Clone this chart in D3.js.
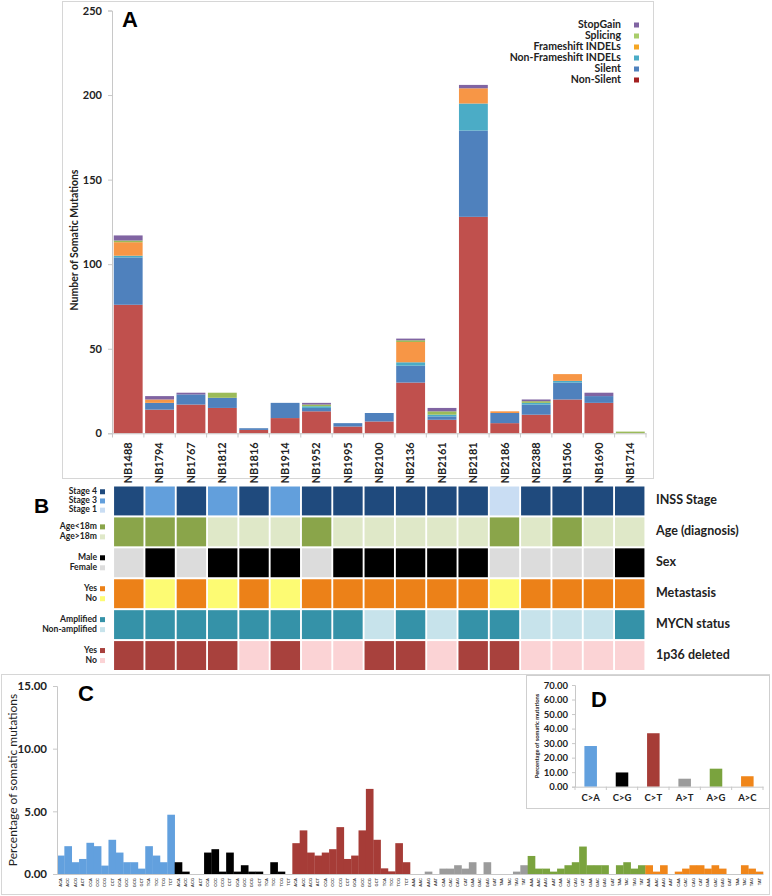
<!DOCTYPE html>
<html>
<head>
<meta charset="utf-8">
<script src="https://cdn.jsdelivr.net/npm/d3@7"></script>
<style>
html,body{margin:0;padding:0;background:#fff;}
svg{display:block;font-family:Lato,"Open Sans",sans-serif;}
</style>
</head>
<body>
<svg id="chart" width="772" height="896"></svg>
<script>
// ---------- Panel A data ----------
const samples = ["NB1488","NB1794","NB1767","NB1812","NB1816","NB1914","NB1952","NB1995","NB2100","NB2136","NB2161","NB2181","NB2186","NB2388","NB1506","NB1690","NB1714"];
const nonSilent     = [76,14,17,15,2,9,13,4,7,30,8,128,6,11,20,18,0];
const silent        = [28,4,6,6,1,9,2,2,5,10,2,51,6,6,10,4,0];
const nonFrameshift = [1,0,0,0,0,0,1,0,0,2,1,16,0,1,1,0,0];
const frameshift    = [8,2,0,0,0,0,0,0,0,12,0,9,1,0,4,0,0];
const splicing      = [1,0,0,3,0,0,1,0,0,1,2,0,0,1,0,0,1];
const stopGain      = [3,2,1,0,0,0,1,0,0,1,2,2,0,1,0,2,0];
const mutTypes = ["Non-Silent","Silent","Non-Frameshift INDELs","Frameshift INDELs","Splicing","StopGain"];
const yTicksA = [0,50,100,150,200,250];

// ---------- Panel B data ----------
const inssStage  = [4,3,4,3,4,3,4,4,4,4,4,4,1,4,4,4,4];
const ageUnder18 = [1,1,1,0,0,0,1,0,0,0,0,0,1,0,1,0,0];
const sexMale    = [0,1,0,1,1,1,0,1,1,1,1,1,0,0,0,0,1];
const metastasis = [1,0,1,0,1,0,1,1,1,1,1,1,0,1,1,1,1];
const mycnAmp    = [1,1,1,1,1,1,1,1,0,1,0,1,1,0,0,0,1];
const del1p36    = [1,1,1,1,0,1,0,0,1,1,0,1,1,0,0,0,0];
const rowNames   = ["INSS Stage","Age (diagnosis)","Sex","Metastasis","MYCN status","1p36 deleted"];

// ---------- Panel C data ----------
const subTypes = ["C>A","C>G","C>T","A>T","A>G","A>C"];
const ctxC = ["ACA","ACC","ACG","ACT","CCA","CCC","CCG","CCT","GCA","GCC","GCG","GCT","TCA","TCC","TCG","TCT"];
const ctxA = ["AAA","AAC","AAG","AAT","CAA","CAC","CAG","CAT","GAA","GAC","GAG","GAT","TAA","TAC","TAG","TAT"];
const pctCA = [1.47,2.22,0.94,1.20,2.49,2.22,0.67,2.73,1.71,0.94,0.94,0.43,2.22,1.47,0.94,4.73];
const pctCG = [0.94,0.19,0,0,1.71,1.98,0.19,1.71,0.19,0.70,0.19,0.19,0,0.94,0.19,0];
const pctCT = [2.46,3.48,1.71,1.47,1.71,1.98,3.74,1.20,1.47,3.48,6.79,2.73,0.45,0.21,2.46,0.94];
const pctAT = [0,0,0.19,0,0.43,0.43,0.70,0.43,0.94,0,0.94,0,0,0,0.19,0.70];
const pctAG = [1.44,0.43,0.43,0.19,0.43,0.70,0.94,2.19,0.70,0.70,0.70,0,0.70,0.94,0.43,0.70];
const pctAC = [0.70,0.19,0.70,0,0.19,0.43,0.70,0.70,0.43,0.70,0.43,0,0,0.70,0.43,0.19];
const yTicksC = [0,5,10,15];

// ---------- Panel D data ----------
const pctSub = [28.0,9.8,36.8,5.5,12.4,7.2];
const yTicksD = [0,10,20,30,40,50,60,70];

// ---------- colours ----------
const typeColors = ["#c0504d","#4f81bd","#4bacc6","#f79646","#9bbb59","#8064a2"];
const legendColors = ["#a32020","#4f81bd","#4bacc6","#f5a623","#a9cd6a","#8064a2"];
const subColors = ["#62a0de","#000000","#a63c37","#9b9b9b","#7aa33e","#f0861a"];

const svg = d3.select("#chart");
const TXT = "#222";

// ================= Panel A =================
svg.append("rect").attr("x",62.5).attr("y",1.5).attr("width",591).attr("height",477)
  .attr("fill","none").attr("stroke","#d6d6d6");

const xA = d3.scaleBand().domain(samples).range([112.5,646]).paddingInner(0.08).paddingOuter(0.04);
const yA = d3.scaleLinear().domain([0,250]).range([433.3,10.5]);

const seriesArrays = [nonSilent,silent,nonFrameshift,frameshift,splicing,stopGain];
const tableA = samples.map((s,i)=>{
  const o={sample:s};
  mutTypes.forEach((t,k)=>o[t]=seriesArrays[k][i]);
  return o;
});
const stackA = d3.stack().keys(mutTypes)(tableA);

const gA = svg.append("g");
gA.selectAll("g.layer").data(stackA).join("g").attr("class","layer")
  .attr("fill",(d,i)=>typeColors[i])
  .selectAll("rect").data(d=>d).join("rect")
  .attr("x",d=>xA(d.data.sample))
  .attr("width",xA.bandwidth())
  .attr("y",d=>yA(d[1]))
  .attr("height",d=>Math.max(0,yA(d[0])-yA(d[1])));

// y axis A
const axA = gA.append("g").attr("transform","translate(112,0)")
  .call(d3.axisLeft(yA).tickValues(yTicksA).tickSize(4).tickPadding(6).tickFormat(d3.format("d")));
axA.select(".domain").attr("stroke","#c8c8c8");
axA.selectAll(".tick line").attr("stroke","#c8c8c8");
axA.selectAll("text").attr("font-size",11).attr("font-weight","bold").attr("fill",TXT).attr("font-family","Lato");

// x axis A
const axXA = gA.append("g").attr("transform","translate(0,433.3)")
  .call(d3.axisBottom(xA).tickSize(0).tickPadding(0));
axXA.select(".domain").attr("stroke","#c8c8c8");
axXA.selectAll(".tick text").attr("transform","rotate(-90)")
  .attr("text-anchor","end").attr("dy","0.35em").attr("x",-9).attr("y",0)
  .attr("font-size",11).attr("font-weight","bold").attr("fill",TXT).attr("font-family","Lato");
// boundary ticks
gA.selectAll("line.bt").data(d3.range(samples.length+1)).join("line").attr("class","bt")
  .attr("x1",i=>112.5+ i*xA.step()).attr("x2",i=>112.5+i*xA.step())
  .attr("y1",433.3).attr("y2",437.5).attr("stroke","#c8c8c8");

gA.append("text").attr("transform","translate(78,240) rotate(-90)")
  .attr("text-anchor","middle").attr("font-size",10.5).attr("font-weight","bold").attr("fill",TXT)
  .text("Number of Somatic Mutations");
gA.append("text").attr("x",122).attr("y",27).attr("font-size",22).attr("font-weight","bold")
  .attr("font-family","Liberation Sans, Arial").text("A");

// legend (StopGain on top)
const legOrder = d3.range(mutTypes.length).reverse();
const lg = gA.append("g");
legOrder.forEach((k,j)=>{
  const y = 25 + j*11;
  lg.append("text").attr("x",621).attr("y",y).attr("text-anchor","end")
    .attr("dominant-baseline","middle").attr("font-size",10.5).attr("font-weight","bold").attr("fill",TXT)
    .text(mutTypes[k]);
  lg.append("rect").attr("x",634).attr("y",y-2.5).attr("width",5).attr("height",5).attr("fill",legendColors[k]);
});

// ================= Panel B =================
const xB = d3.scaleBand().domain(samples).range([112.5,646]).paddingInner(0.06).paddingOuter(0.05);
const yB = d3.scaleBand().domain(rowNames).range([486.5,670]).paddingInner(0.065);

const rowColor = [
  i=>({4:"#1f4a7d",3:"#629fdc",1:"#c9ddf3"})[inssStage[i]],
  i=>ageUnder18[i]?"#8aa54a":"#dfe8c8",
  i=>sexMale[i]?"#000000":"#dcdcdc",
  i=>metastasis[i]?"#ec8118":"#fdfb73",
  i=>mycnAmp[i]?"#3592a8":"#c7e3eb",
  i=>del1p36[i]?"#a8413d":"#fbd3d5"
];
const gB = svg.append("g");
rowNames.forEach((r,ri)=>{
  gB.selectAll("rect.r"+ri).data(samples).join("rect").attr("class","r"+ri)
    .attr("x",s=>xB(s)).attr("width",xB.bandwidth())
    .attr("y",yB(r)).attr("height",yB.bandwidth())
    .attr("fill",(s,i)=>rowColor[ri](i));
  gB.append("text").attr("x",656).attr("y",yB(r)+yB.bandwidth()/2)
    .attr("dominant-baseline","middle").attr("font-size",12.5).attr("font-weight","bold").attr("fill",TXT)
    .text(r);
});
// left legend labels
const leftLeg = [
  [[ "Stage 4","#1f4a7d"],["Stage 3","#629fdc"],["Stage 1","#c9ddf3"]],
  [["Age<18m","#8aa54a"],["Age>18m","#dfe8c8"]],
  [["Male","#000000"],["Female","#dcdcdc"]],
  [["Yes","#ec8118"],["No","#fdfb73"]],
  [["Amplified","#3592a8"],["Non-amplified","#c7e3eb"]],
  [["Yes","#a8413d"],["No","#fbd3d5"]]
];
leftLeg.forEach((items,ri)=>{
  const cy = yB(rowNames[ri]) + yB.bandwidth()/2;
  const sp = items.length===3 ? 9.2 : 10;
  items.forEach((it,j)=>{
    const y = cy + (j-(items.length-1)/2)*sp;
    gB.append("text").attr("x",97).attr("y",y).attr("text-anchor","end").attr("dominant-baseline","middle")
      .attr("font-size",8.6).attr("font-weight","bold").attr("fill",TXT).text(it[0]);
    gB.append("rect").attr("x",100).attr("y",y-2.5).attr("width",5).attr("height",5).attr("fill",it[1]);
  });
});
gB.append("text").attr("x",34).attr("y",513).attr("font-size",21).attr("font-weight","bold")
  .attr("font-family","Liberation Sans, Arial").text("B");

// ================= Panel C =================
svg.append("rect").attr("x",1.5).attr("y",674.5).attr("width",768).attr("height",220)
  .attr("fill","none").attr("stroke","#d6d6d6");

const pctAll = [pctCA,pctCG,pctCT,pctAT,pctAG,pctAC];
const tableC = [];
subTypes.forEach((s,k)=>{
  const ctx = k<3?ctxC:ctxA;
  ctx.forEach((c,j)=>tableC.push({id:s+"_"+c, sub:k, ctx:c, v:pctAll[k][j]}));
});
const xC = d3.scaleBand().domain(tableC.map(d=>d.id)).range([57,763]).padding(0);
const yC = d3.scaleLinear().domain([0,15]).range([874,686]);
const gC = svg.append("g");
gC.selectAll("rect").data(tableC).join("rect")
  .attr("x",d=>xC(d.id)).attr("width",xC.bandwidth()+0.3)
  .attr("y",d=>yC(d.v)).attr("height",d=>yC(0)-yC(d.v))
  .attr("fill",d=>subColors[d.sub]);
const axC = gC.append("g").attr("transform","translate(57,0)")
  .call(d3.axisLeft(yC).tickValues(yTicksC).tickSize(4).tickPadding(6).tickFormat(d3.format(".2f")));
axC.select(".domain").attr("stroke","#c8c8c8");
axC.selectAll(".tick line").attr("stroke","#c8c8c8");
axC.selectAll("text").attr("font-size",11.5).attr("font-weight","bold").attr("fill",TXT).attr("font-family","Lato");
const axXC = gC.append("g").attr("transform","translate(0,874)")
  .call(d3.axisBottom(xC).tickSize(0).tickFormat(id=>id.split("_")[1]));
axXC.select(".domain").attr("stroke","#c8c8c8");
axXC.selectAll(".tick text").attr("transform","rotate(-90)")
  .attr("text-anchor","end").attr("dy","0.35em").attr("x",-4).attr("y",0)
  .attr("font-size",4).attr("font-weight","bold").attr("fill","#444");
gC.append("text").attr("transform","translate(17,780) rotate(-90)")
  .attr("text-anchor","middle").attr("font-size",12).attr("fill",TXT)
  .text("Percentage of somatic mutations");
gC.append("text").attr("x",78).attr("y",701).attr("font-size",22).attr("font-weight","bold")
  .attr("font-family","Liberation Sans, Arial").text("C");

// ================= Panel D =================
svg.append("rect").attr("x",526.5).attr("y",675.5).attr("width",243).attr("height",133)
  .attr("fill","#fff").attr("stroke","#cfcfcf");
const xD = d3.scaleBand().domain(subTypes).range([575,763]).paddingInner(0.6).paddingOuter(0.3);
const xDb = d3.scaleBand().domain(subTypes).range([575,763]);
const yD = d3.scaleLinear().domain([0,70]).range([786.7,685]);
const gD = svg.append("g");
gD.selectAll("rect").data(subTypes).join("rect")
  .attr("x",s=>xD(s)).attr("width",xD.bandwidth())
  .attr("y",(s,i)=>yD(pctSub[i])).attr("height",(s,i)=>yD(0)-yD(pctSub[i]))
  .attr("fill",(s,i)=>subColors[i]);
const axD = gD.append("g").attr("transform","translate(575,0)")
  .call(d3.axisLeft(yD).tickValues(yTicksD).tickSize(3).tickPadding(4).tickFormat(d3.format(".2f")));
axD.select(".domain").attr("stroke","#c8c8c8");
axD.selectAll(".tick line").attr("stroke","#c8c8c8");
axD.selectAll("text").attr("font-size",9.5).attr("font-weight","bold").attr("fill",TXT).attr("font-family","Lato");
const axXD = gD.append("g").attr("transform","translate(0,786.7)")
  .call(d3.axisBottom(xDb).tickSize(0).tickPadding(8));
axXD.select(".domain").attr("stroke","#c8c8c8");
axXD.selectAll(".tick text").attr("font-size",9.5).attr("font-weight","bold").attr("fill",TXT).attr("font-family","Lato");
gD.selectAll("line.bt").data(d3.range(subTypes.length+1)).join("line").attr("class","bt")
  .attr("x1",i=>575+i*xDb.step()).attr("x2",i=>575+i*xDb.step())
  .attr("y1",786.7).attr("y2",790).attr("stroke","#c8c8c8");
gD.append("text").attr("transform","translate(539,736) rotate(-90)")
  .attr("text-anchor","middle").attr("font-size",5.8).attr("font-weight","bold").attr("fill",TXT)
  .text("Percentage of somatic mutations");
gD.append("text").attr("x",591).attr("y",707).attr("font-size",22).attr("font-weight","bold")
  .attr("font-family","Liberation Sans, Arial").text("D");
</script>
</body>
</html>
